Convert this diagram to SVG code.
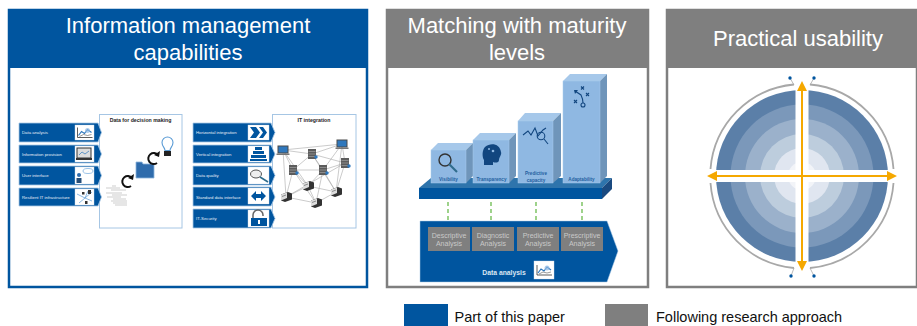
<svg xmlns="http://www.w3.org/2000/svg" width="917" height="326" viewBox="0 0 917 326">
<style>
text{font-family:"Liberation Sans",Arial,sans-serif}
.title{font-size:22px;fill:#fff;text-anchor:middle}
.legend{font-size:14.5px;fill:#111}
.frame{fill:#fff;stroke-width:2.5}
.chev{fill:#00559f;stroke:#a9c9e6;stroke-width:.8}
.lab{font-size:4.3px;fill:#e6eef7}
.ibox{fill:#fff;stroke:#cfdbe8;stroke-width:.4}
.doc{fill:#fff;stroke:#a6c6e4;stroke-width:1}
.dtitle{font-size:5.2px;font-weight:bold;fill:#222;text-anchor:middle}
.front{fill:#8fb8e2;stroke:#a9cbec;stroke-width:.5}
.top{fill:#a6c8ea}
.side{fill:#6f95ba}
.blab{font-size:4.6px;font-weight:bold;fill:#1f5f9f;text-anchor:middle}
.gbox{fill:#7f7f7f}
.glab{font-size:7px;fill:#c9c9c9;text-anchor:middle}
.green{stroke:#4fae2c;stroke-width:1.100;stroke-dasharray:4 3;fill:none}
.ghead{fill:#4fae2c}
.net{stroke:#a8a8a8;stroke-width:.6;fill:none}
.orange{stroke:#f5a800;stroke-width:2;fill:none}
.arc{stroke:#a8a8a8;stroke-width:1.800;fill:none}
.tiny{stroke:#a8a8a8;stroke-width:.8}
.pin{fill:#00559f}
.black{stroke:#111;stroke-width:2;fill:none}
.ic{stroke:#12467f;stroke-width:1.100;fill:none}
</style>
<defs>
<symbol id="laptop" overflow="visible"><rect x="-5.500" y="-4.500" width="11" height="8" fill="#4a4a4a"/><rect x="-4.500" y="-3.500" width="9" height="6" fill="#2f78bd"/><rect x="-6.500" y="3.500" width="13" height="1.500" fill="#777"/></symbol>
<symbol id="server" overflow="visible"><rect x="-4" y="-5" width="8" height="10" fill="#5c5c5c"/><path d="M-3.500 -2.500H3.500M-3.500 0H3.500M-3.500 2.500H3.500" stroke="#bbb" stroke-width=".5"/><circle cx="4" cy="3" r="1.700" fill="#2f78bd"/></symbol>
<symbol id="printer" overflow="visible"><path d="M-5 -2.500L2 -5L6 -3.500V2.500L-1 5L-5 3.500Z" fill="#333"/><path d="M-5 -2.500L1 -4.500V1L-5 3.500Z" fill="#ddd"/><path d="M-4 -.5L0 -2" stroke="#555" stroke-width=".6"/></symbol>
<symbol id="chart" overflow="visible"><path d="M-7 -5V5H8" stroke="#333" stroke-width=".8" fill="none"/><path d="M-6 3L-3 -1L0 1L3 -3L7 0" stroke="#2f78bd" stroke-width="1.200" fill="none"/><path d="M-5 4L-1 2L3 3L7 2" stroke="#555" stroke-width=".6" fill="none"/><circle cx="3" cy="-2" r="2.500" fill="#8fb8e2" opacity=".7"/></symbol>
</defs>

<g id="panel-information">
<rect class="frame" x="9" y="10" width="358" height="277" stroke="#00559f"/>
<rect x="8" y="9" width="360" height="59" fill="#00559f"/>
<text class="title" x="188" y="33">Information management</text>
<text class="title" x="188" y="60">capabilities</text>
</g>
<g id="panel-maturity">
<rect class="frame" x="387" y="10" width="261" height="277" stroke="#7f7f7f"/>
<rect x="386" y="9" width="263" height="59" fill="#7f7f7f"/>
<text class="title" x="517" y="33">Matching with maturity</text>
<text class="title" x="517" y="60">levels</text>
</g>
<g id="panel-usability">
<rect class="frame" x="667" y="10" width="250" height="277" stroke="#7f7f7f"/>
<rect x="666" y="9" width="251" height="59" fill="#7f7f7f"/>
<text class="title" x="798" y="46">Practical usability</text>
</g>

<g id="doc-decision">
<rect class="doc" x="99.500" y="114.500" width="82.500" height="113.500"/>
<text class="dtitle" x="140.500" y="122">Data for decision making</text>
<path d="M165 150.500c0-3-3-4-3-8a5.500 5.500 0 1 1 11 0c0 4-3 5-3 8z" fill="#fff" stroke="#5a9bd5" stroke-width="1.100"/>
<rect x="164" y="151" width="7" height="5" fill="#222"/>
<path d="M136 162h6l1 2h11v14h-18z" fill="#2f6cac" stroke="#8db5dc" stroke-width=".8"/>
<path d="M158 155a5.500 5.500 0 1 0-1 8" class="black" stroke-width="2.500"/><path d="M160 151l-1 6-5-2z" fill="#111"/>
<path d="M132 178a5.500 5.500 0 1 0-1 8" class="black" stroke-width="2.500"/><path d="M134 174l-1 6-5-2z" fill="#111"/>
<path d="M112 186h4M106 188h14M111 190h15M106 193h16M112 195h15M107 197h14M113 199h13M111 201h16M113 203h14M115 205h12" stroke="#999" stroke-width=".5"/>
</g>

<g id="chev-data-analysis"><path class="chev" d="M19 123H98L101.500 132.500L98 142H19Z"/><text class="lab" x="22" y="134">Data analysis</text><rect class="ibox" x="75" y="125" width="19" height="15"/><use href="#chart" x="84.500" y="132.500"/></g>
<g id="chev-information-provision"><path class="chev" d="M19 145H98L101.500 154L98 163H19Z"/><text class="lab" x="22" y="156">Information provision</text><rect class="ibox" x="75" y="146" width="19" height="16"/><rect x="77" y="148" width="14" height="10" fill="#ddd" stroke="#333"/><rect x="76" y="158" width="16" height="2" fill="#333"/><path d="M79 155l3-3 3 2 4-3" stroke="#2f78bd" fill="none" stroke-width=".7"/></g>
<g id="chev-user-interface"><path class="chev" d="M19 166H98L101.500 175.500L98 185H19Z"/><text class="lab" x="22" y="177">User interface</text><rect class="ibox" x="75" y="167" width="19" height="17"/><ellipse cx="88" cy="171" rx="5" ry="2.500" fill="#fff" stroke="#5a9bd5" stroke-width=".6"/><circle cx="79" cy="175" r="2" fill="#2f6cac"/><rect x="76.500" y="178" width="5" height="5" fill="#244d78"/></g>
<g id="chev-resilient"><path class="chev" d="M19 188H98L101.500 197L98 206H19Z"/><text class="lab" x="22" y="198.500">Resilient IT infrastructure</text><rect class="ibox" x="75" y="189" width="19" height="16"/><path d="M77 194L85 198L92 192M79 203L85 198L92 201M85 198L88 191" stroke="#5a9bd5" stroke-width=".7" fill="none"/><rect x="88" y="190" width="3" height="4" fill="#333"/><rect x="82" y="192" width="2.500" height="2.500" fill="#333"/><rect x="85" y="201" width="2.500" height="3" fill="#333"/></g>

<g id="doc-it-integration">
<rect class="doc" x="272.500" y="114.500" width="83.500" height="113.500"/>
<text class="dtitle" x="314" y="122">IT integration</text>
</g>
<g id="connectors">
<path class="net" d="M283 150L342 144M283 150L312 154M283 150L293 170M283 150L308 186M283 150L286 197M342 144L312 154M342 144L345 163M342 144L323 170M342 144L336 192M312 154L345 163M312 154L293 170M312 154L323 170M312 154L336 192M345 163L323 170M345 163L286 197M345 163L336 192M293 170L323 170M293 170L308 186M293 170L286 197M293 170L316 203M323 170L308 186M323 170L336 192M323 170L316 203M308 186L286 197M308 186L336 192M308 186L316 203M336 192L316 203M286 197L316 203"/>
<path class="green" d="M448 227V188"/><path class="ghead" d="M448 184l-2.500 5h5z"/>
<path class="green" d="M491 227V188"/><path class="ghead" d="M491 184l-2.500 5h5z"/>
<path class="green" d="M536 227V188"/><path class="ghead" d="M536 184l-2.500 5h5z"/>
<path class="green" d="M582 227V188"/><path class="ghead" d="M582 184l-2.500 5h5z"/>
</g>
<g id="it-nodes">
<use href="#laptop" x="283" y="150"/><use href="#laptop" x="342" y="144"/>
<use href="#server" x="312" y="154"/><use href="#server" x="345" y="163"/><use href="#server" x="293" y="170"/><use href="#server" x="323" y="170"/>
<use href="#printer" x="308" y="186"/><use href="#printer" x="336" y="192"/><use href="#printer" x="286" y="197"/><use href="#printer" x="316" y="203"/>
</g>

<g id="chev-horizontal"><path class="chev" d="M193 123H271L275 132.500L271 142H193Z"/><text class="lab" x="196" y="134">Horizontal integration</text><rect class="ibox" x="248" y="125" width="21" height="15"/><path d="M250 127H256L260 132.500L256 138H250L254 132.500ZM259 127H263L267 132.500L263 138H259L263 132.500Z" fill="#00559f"/></g>
<g id="chev-vertical"><path class="chev" d="M193 145H271L275 154L271 163H193Z"/><text class="lab" x="196" y="156">Vertical integration</text><rect class="ibox" x="248" y="146" width="21" height="16"/><rect x="255" y="147" width="7" height="3" fill="#00559f"/><rect x="253" y="151" width="11" height="3" fill="#00559f"/><rect x="251" y="155" width="15" height="3" fill="#00559f"/><rect x="250" y="159" width="17" height="2" fill="#00559f"/></g>
<g id="chev-quality"><path class="chev" d="M193 166H271L275 175.500L271 185H193Z"/><text class="lab" x="196" y="177">Data quality</text><rect class="ibox" x="248" y="167" width="21" height="17"/><ellipse cx="256" cy="174" rx="5.500" ry="4" fill="#eee" stroke="#555"/><path d="M260 177L268 182" stroke="#2f6c8c" stroke-width="1.600"/></g>
<g id="chev-standard"><path class="chev" d="M193 187H271L275 197L271 206H193Z"/><text class="lab" x="196" y="198.500">Standard data interface</text><rect class="ibox" x="248" y="188" width="21" height="16"/><path d="M251 196L256 191V194H261V191L266 196L261 201V198H256V201Z" fill="#00559f"/></g>
<g id="chev-security"><path class="chev" d="M193 209H271L275 218.500L271 228H193Z"/><text class="lab" x="196" y="220">IT-Security</text><rect class="ibox" x="248" y="210" width="21" height="17"/><path d="M253 218v-3a5 5 0 0 1 10 0v1" stroke="#666" stroke-width="1.500" fill="none"/><rect x="251" y="218" width="16" height="8" fill="#00559f"/><rect x="258" y="220" width="2" height="4" fill="#fff"/></g>

<g id="platform">
<path d="M419 188L431 178H612L602 188Z" fill="#2e74ac"/>
<path d="M602 188L612 178V189L602 199Z" fill="#1a4a80"/>
<rect x="419" y="188" width="183" height="11" fill="#00559f"/>
</g>
<g id="level-visibility">
<path class="top" d="M431 150L438 143H473L466 150Z"/><path class="side" d="M466 150L473 143V176L466 183Z"/><rect class="front" x="431" y="150" width="35" height="33"/>
<circle cx="445" cy="160" r="6" fill="none" stroke="#333" stroke-width="1.400"/><path d="M449 164L457 172" stroke="#2f6c8c" stroke-width="2.200"/>
<text class="blab" x="448.500" y="181">Visibility</text>
</g>
<g id="level-transparency">
<path class="top" d="M473 140L480 133H516L509 140Z"/><path class="side" d="M509 140L516 133V176L509 183Z"/><rect class="front" x="473" y="140" width="36" height="43"/>
<path d="M484 165V160C482 157 482 150 485 147C491 142 500 144 501 152C502 155 499 157 499 160C499 163 495 163 493 162V165Z" fill="#12467f"/><circle cx="493" cy="151" r="1.300" fill="#8fb8e2"/><circle cx="489" cy="149" r="1" fill="#8fb8e2"/>
<text class="blab" x="491.500" y="181">Transparency</text>
</g>
<g id="level-predictive">
<path class="top" d="M518 121L525 113H561L553 121Z"/><path class="side" d="M553 121L561 113V176L553 183Z"/><rect class="front" x="518" y="121" width="35" height="62"/>
<path d="M523 135L528 131L531 135L535 128L538 136L543 130L546 128" class="ic"/><circle cx="541" cy="136" r="3.800" class="ic"/><path d="M544 139L548 144" class="ic"/>
<text class="blab" x="536" y="175">Predictive</text><text class="blab" x="536" y="181.500">capacity</text>
</g>
<g id="level-adaptability">
<path class="top" d="M563 81L570 74H607L600 81Z"/><path class="side" d="M600 81L607 74V176L600 183Z"/><rect class="front" x="563" y="81" width="37" height="102"/>
<path d="M575 91L581 95Q583 99 583 103" class="ic"/><path d="M574 90l4 0-3 4z" fill="#12467f"/><circle cx="583" cy="105" r="2" class="ic"/>
<path d="M581 86.500l3 3m0-3l-3 3M586 93l3 3m0-3l-3 3M574 100l3 3m0-3l-3 3" class="ic"/>
<text class="blab" x="581.500" y="181">Adaptability</text>
</g>

<g id="data-analysis">
<path d="M420 221H607L618 251L607 282H420Z" fill="#00559f" stroke="#a9c9e6" stroke-width=".5"/>
<rect class="gbox" x="428" y="227" width="42" height="24"/><text class="glab" x="449" y="237.500">Descriptive</text><text class="glab" x="449" y="246">Analysis</text>
<rect class="gbox" x="472" y="227" width="42" height="24"/><text class="glab" x="493" y="237.500">Diagnostic</text><text class="glab" x="493" y="246">Analysis</text>
<rect class="gbox" x="517" y="227" width="42" height="24"/><text class="glab" x="538" y="237.500">Predictive</text><text class="glab" x="538" y="246">Analysis</text>
<rect class="gbox" x="561" y="227" width="42" height="24"/><text class="glab" x="582" y="237.500">Prescriptive</text><text class="glab" x="582" y="246">Analysis</text>
<text x="504" y="274.500" font-size="6.800" font-weight="bold" fill="#d9e6f3" text-anchor="middle">Data analysis</text>
<rect class="ibox" x="534" y="261" width="20" height="18"/><use href="#chart" x="544" y="270"/>
</g>

<g id="circle">
<circle cx="802" cy="176" r="86" fill="#5b7fa8"/><circle cx="802" cy="176" r="71.500" fill="#7b98ba"/><circle cx="802" cy="176" r="57" fill="#9bb1cb"/><circle cx="802" cy="176" r="42" fill="#bdcddd"/><circle cx="802" cy="176" r="28" fill="#e0e6f0"/><circle cx="802" cy="176" r="14" fill="#f2f4f8"/>
<rect x="795.500" y="85" width="13" height="182" fill="#fff"/><rect x="712" y="170" width="180" height="12" fill="#fff"/>
<path class="arc" d="M710.500 169A92 92 0 0 1 794 84.500"/><path class="arc" d="M810 84.500A92 92 0 0 1 893.500 169"/><path class="arc" d="M893.500 183A92 92 0 0 1 810 268"/><path class="arc" d="M794 268A92 92 0 0 1 710.500 183"/>
<path class="tiny" d="M794 85L790 78M810 85L814 78M794 268L791 276M810 268L814 276"/>
<circle class="pin" cx="790" cy="78" r="1.700"/><circle class="pin" cx="814" cy="78" r="1.700"/><circle class="pin" cx="791" cy="276" r="1.700"/><circle class="pin" cx="814" cy="276" r="1.700"/>
<path class="orange" d="M802 88V264M714 176H890"/>
<path d="M802 81L807 91H797ZM802 271L797 261H807ZM707 176L717 171V181ZM897 176L887 171V181Z" fill="#f5a800"/>
</g>

<g id="legend-paper"><rect x="404" y="304" width="44" height="22" fill="#00559f"/><text class="legend" x="454.500" y="322">Part of this paper</text></g>
<g id="legend-research"><rect x="605" y="304" width="43" height="22" fill="#7f7f7f"/><text class="legend" x="656" y="322">Following research approach</text></g>
</svg>
